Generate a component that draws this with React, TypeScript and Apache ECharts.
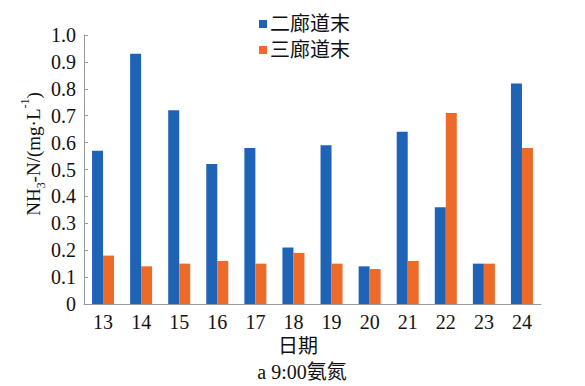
import React, { useEffect, useRef } from "react";
import * as echarts from "echarts";

const categories = ["13", "14", "15", "16", "17", "18", "19", "20", "21", "22", "23", "24"];
const seriesNames = ["二廊道末", "三廊道末"];
const corridor2 = [0.57, 0.93, 0.72, 0.52, 0.58, 0.21, 0.59, 0.14, 0.64, 0.36, 0.15, 0.82];
const corridor3 = [0.18, 0.14, 0.15, 0.16, 0.15, 0.19, 0.15, 0.13, 0.16, 0.71, 0.15, 0.58];
const xAxisTitle = "日期";
const caption = "a 9:00氨氮";

const FONT = "'Liberation Serif', 'Times New Roman', 'Noto Sans CJK SC', serif";
const BLUE = "#1f63b6";
const ORANGE = "#ee6a28";
const AXIS = "#9a9a9a";

export default function App() {
  const ref = useRef<HTMLDivElement>(null);
  useEffect(() => {
    if (!ref.current) return;
    const chart = echarts.init(ref.current, null, { renderer: "svg" });
    chart.setOption({
      animation: false,
      backgroundColor: "#ffffff",
      textStyle: { fontFamily: FONT, color: "#111" },
      legend: {
        orient: "vertical",
        left: 254,
        top: 9,
        itemWidth: 8,
        itemHeight: 8,
        itemGap: 6,
        icon: "rect",
        textStyle: { fontFamily: FONT, fontSize: 20, color: "#111", padding: [0, 0, 0, -2] },
        data: seriesNames,
      },
      grid: { left: 84, right: 44, top: 35, bottom: 82, containLabel: false },
      xAxis: {
        type: "category",
        data: categories,
        axisLine: { lineStyle: { color: AXIS, width: 1 } },
        axisTick: { inside: true, length: 4, lineStyle: { color: AXIS } },
        axisLabel: { fontFamily: FONT, fontSize: 20, color: "#111", margin: 8 },
        splitLine: { show: false },
      },
      yAxis: {
        type: "value",
        min: 0,
        max: 1,
        interval: 0.1,
        axisLine: { show: true, lineStyle: { color: AXIS, width: 1 } },
        axisTick: { show: true, inside: true, length: 4, lineStyle: { color: AXIS } },
        axisLabel: {
          fontFamily: FONT,
          fontSize: 20,
          color: "#111",
          margin: 8,
          formatter: (v: number) => (v === 0 ? "0" : v.toFixed(1)),
        },
        splitLine: { show: false },
      },
      series: [
        {
          name: seriesNames[0],
          type: "bar",
          data: corridor2,
          barWidth: 11,
          barGap: "0%",
          itemStyle: { color: BLUE },
        },
        {
          name: seriesNames[1],
          type: "bar",
          data: corridor3,
          barWidth: 11,
          barGap: "0%",
          itemStyle: { color: ORANGE },
        },
      ],
      graphic: [
        {
          type: "text",
          x: 33,
          y: 154,
          rotation: Math.PI / 2,
          style: {
            text: "NH{sub|3}-N/(mg·L{sup|-1})",
            font: "19px " + FONT,
            fill: "#111",
            align: "center",
            verticalAlign: "middle",
            rich: {
              sub: { fontSize: 12, fontFamily: FONT, verticalAlign: "bottom", lineHeight: 28, fill: "#111" },
              sup: { fontSize: 12, fontFamily: FONT, verticalAlign: "top", lineHeight: 24, fill: "#111" },
            },
          },
        },
        {
          type: "text",
          x: 298,
          y: 346,
          style: {
            text: xAxisTitle,
            font: "20px " + FONT,
            fill: "#111",
            align: "center",
            verticalAlign: "middle",
          },
        },
        {
          type: "text",
          x: 302,
          y: 372,
          style: {
            text: caption,
            font: "20px " + FONT,
            fill: "#111",
            align: "center",
            verticalAlign: "middle",
          },
        },
      ],
    });
    return () => chart.dispose();
  }, []);
  return (
    <div
      ref={ref}
      style={{ position: "fixed", left: 0, top: 0, width: 585, height: 386 }}
    />
  );
}
